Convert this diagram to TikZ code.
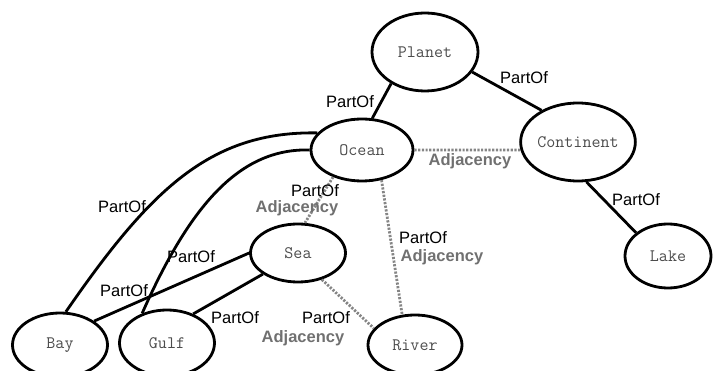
\documentclass[tikz,border=0pt]{standalone}
\usepackage{fontspec}
\setmainfont{Liberation Sans}
\usetikzlibrary{shapes.geometric}
\definecolor{cdot}{HTML}{858585}
\definecolor{cadj}{HTML}{707070}
\tikzset{
  every picture/.style={x=1pt, y=-1pt},
  place/.style={ellipse, draw=black, line width=2.8pt, inner sep=0pt, font=\ttfamily\fontsize{17.5}{20}\selectfont, text=black!70},
  partof/.style={draw=black, line width=2.8pt},
  adjacent/.style={draw=cdot, line width=2.8pt, dash pattern=on 2.2pt off 1.5pt},
  lbl/.style={font=\fontsize{16.5}{19}\selectfont, inner sep=0pt},
  adjlbl/.style={font=\bfseries\fontsize{16.5}{19}\selectfont, text=cadj, inner sep=0pt},
}

\begin{document}
\begin{tikzpicture}
  \useasboundingbox (0,0) rectangle (715,371);
  % places
  \node[place, minimum width=106, minimum height=78] (planet) at (425,52) {Planet};
  \node[place, minimum width=102, minimum height=62] (ocean) at (362,150) {Ocean};
  \node[place, minimum width=106, minimum height=78] (continent) at (578,142) {Continent};
  \node[place, minimum width=86, minimum height=64] (lake) at (668,256) {Lake};
  \node[place, minimum width=95, minimum height=58] (sea) at (298,253) {Sea};
  \node[place, minimum width=94, minimum height=60] (river) at (415,345) {River};
  \node[place, minimum width=95, minimum height=64] (bay) at (60,345) {Bay};
  \node[place, minimum width=95, minimum height=66] (gulf) at (167,343) {Gulf};
  % part-of links
  \draw[partof] (planet.223) -- (ocean.72);
  \draw[partof] (planet.337) -- (continent.139);
  \draw[partof] (continent.282) -- (lake.144);
  \draw[partof] (ocean.159) .. controls (210,131) and (150,190) .. (bay.80);
  \draw[partof] (ocean.180) .. controls (240,148) and (190,205) .. (gulf.130);
  \draw[partof] (sea.180) -- (bay.35);
  \draw[partof] (sea.211) -- (gulf.48);
  % adjacency links
  \draw[adjacent] (ocean.east) -- (continent.188);
  \draw[adjacent] (ocean.223) -- (sea.77);
  \draw[adjacent] (ocean.303) -- (river.113);
  \draw[adjacent] (sea.312) -- (river.158);
  % labels
  \node[lbl] (l1) at (350,102) {PartOf};
  \node[lbl] (l2) at (524,78) {PartOf};
  \node[adjlbl] (l3) at (470,161) {Adjacency};
  \node[lbl] (l4) at (636,200) {PartOf};
  \node[lbl] (l5) at (122,207) {PartOf};
  \node[lbl] (l6) at (191,257) {PartOf};
  \node[lbl] (l7) at (124,291) {PartOf};
  \node[lbl] (l8) at (235,318) {PartOf};
  \node[lbl] (l9) at (315,191) {PartOf};
  \node[adjlbl] (l10) at (297,208) {Adjacency};
  \node[lbl] (l11) at (423,238) {PartOf};
  \node[adjlbl] (l12) at (442,257) {Adjacency};
  \node[lbl] (l13) at (326,318) {PartOf};
  \node[adjlbl] (l14) at (303,338) {Adjacency};
\end{tikzpicture}
\end{document}
